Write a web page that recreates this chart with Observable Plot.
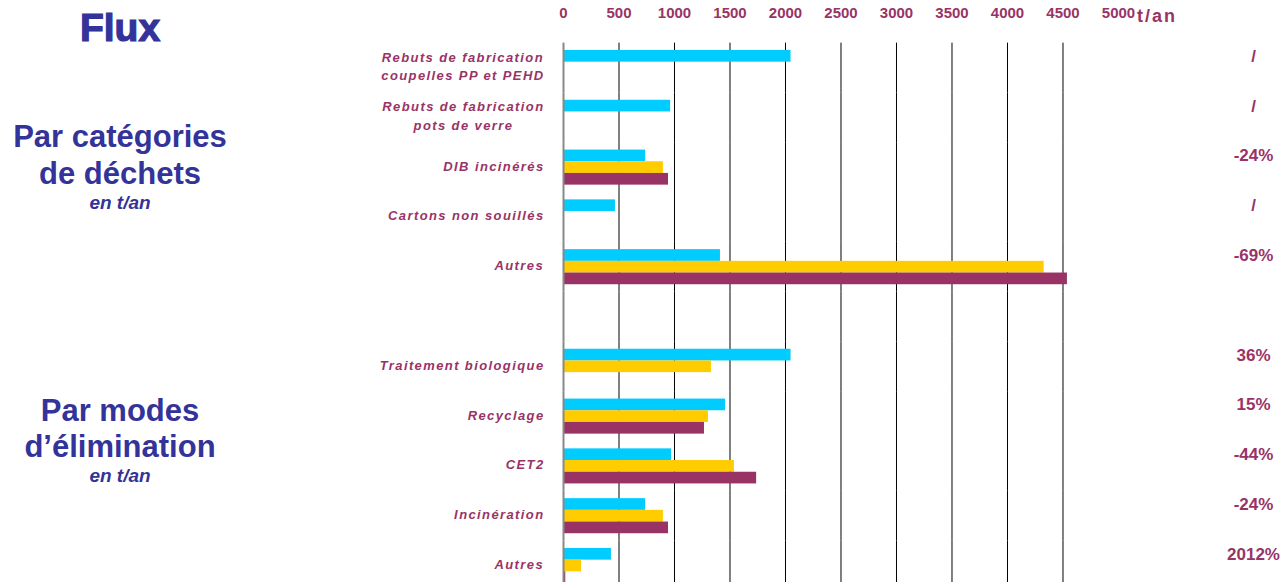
<!DOCTYPE html>
<html><head><meta charset="utf-8">
<script src="https://cdn.jsdelivr.net/npm/d3@7"></script>
<script src="https://cdn.jsdelivr.net/npm/@observablehq/plot@0.6"></script>
<style>
html,body{margin:0;padding:0;background:#fff;overflow:hidden;}
#wrap{position:relative;width:1283px;height:582px;overflow:hidden;font-family:"Liberation Sans",Arial,sans-serif;}
.side{position:absolute;left:0;width:240px;text-align:center;color:#333399;font-weight:bold;line-height:1;white-space:nowrap;}
.unit{position:absolute;left:1137px;top:7px;font-size:18px;font-weight:bold;color:#993366;letter-spacing:2px;line-height:1;}
#chart{position:absolute;left:0;top:0;}
g[font-size="13"]{letter-spacing:1.4px;}
g[aria-label="x-axis tick label"]{font-weight:bold;}
</style></head>
<body><div id="wrap">
<div id="chart"></div>
<div class="side" style="top:8px;font-size:39px;-webkit-text-stroke:1.2px #333399;">Flux</div>
<div class="side" style="top:121px;font-size:31px;">Par catégories</div>
<div class="side" style="top:158px;font-size:31px;">de déchets</div>
<div class="side" style="top:193px;font-size:19px;font-style:italic;">en t/an</div>
<div class="side" style="top:395px;font-size:31px;">Par modes</div>
<div class="side" style="top:431px;font-size:31px;">d’élimination</div>
<div class="side" style="top:466px;font-size:19px;font-style:italic;">en t/an</div>
<div class="unit">t/an</div>
</div>
<script>
const categories = [
  "Rebuts de fabrication\ncoupelles PP et PEHD",
  "Rebuts de fabrication\npots de verre",
  "DIB incinérés",
  "Cartons non souillés",
  "Autres",
  " ",
  "Traitement biologique",
  "Recyclage",
  "CET2",
  "Incinération",
  "Autres"
];
const seriesNames = ["récent", "intermédiaire", "ancien"];
const valuesRecent = [2050, 965, 740, 468, 1414, null, 2050, 1460, 973, 740, 432];
const valuesMid    = [null, null, 900, null, 4330, null, 1333, 1306, 1540, 900, 162];
const valuesOld    = [null, null, 946, null, 4540, null, null, 1270, 1740, 946, 20.5];
const evolutions = ["/", "/", "-24%", "/", "-69%", "", "36%", "15%", "-44%", "-24%", "2012%"];
const xTicks = [0, 500, 1000, 1500, 2000, 2500, 3000, 3500, 4000, 4500, 5000];
const seriesColors = ["#00CCFF", "#FFCC00", "#993366"];

const allSeries = [valuesRecent, valuesMid, valuesOld];
const rows = [];
allSeries.forEach((vals, s) => vals.forEach((v, i) => {
  if (v != null) rows.push({i, serie: seriesNames[s], value: v});
}));
const rowIdx = d3.range(categories.length);

const chart = Plot.plot({
  width: 1283, height: 590.4,
  marginLeft: 563, marginRight: 165, marginTop: 42.6, marginBottom: 0,
  style: {fontFamily: "Liberation Sans, Arial, sans-serif", background: "transparent", overflow: "visible"},
  x: {domain: [0, 5000]},
  y: {domain: seriesNames, paddingInner: 0, paddingOuter: 0.63, round: false, axis: null},
  fy: {domain: rowIdx, padding: 0, round: false, axis: null},
  color: {domain: seriesNames, range: seriesColors},
  marks: [
    Plot.gridX({ticks: xTicks.filter(t => t > 0 && t < 5000), stroke: "#000", strokeOpacity: 1, strokeWidth: 1}),
    Plot.barX(rows, {fy: "i", y: "serie", x: "value", fill: "serie"}),
    Plot.ruleX([0], {stroke: "#888", strokeWidth: 2}),
    Plot.axisX({anchor: "top", ticks: xTicks, tickFormat: d => String(d), tickSize: 0, tickPadding: 25, fontSize: 15, fontWeight: "bold", fill: "#993366", label: null}),
    Plot.text(rowIdx, {fy: d => d, text: d => categories[d], frameAnchor: "left", dx: -19, dy: -3, textAnchor: "end", lineAnchor: "middle", lineHeight: 1.45, fontSize: 13, fontStyle: "italic", fontWeight: "bold", fill: "#993366"}),
    Plot.text(rowIdx, {fy: d => d, y: () => seriesNames[0], text: d => evolutions[d], frameAnchor: "right", dx: 135, textAnchor: "middle", fontSize: 17, fontWeight: "bold", fill: "#993366"})
  ]
});
document.getElementById("chart").append(chart);
chart.querySelectorAll('g[font-size="13"] text').forEach(t => {
  const w = t.getBBox().width;
  t.setAttribute("text-anchor", "middle");
  t.setAttribute("transform", (t.getAttribute("transform") || "") + ` translate(${-w / 2},0)`);
});
</script>
</body></html>
